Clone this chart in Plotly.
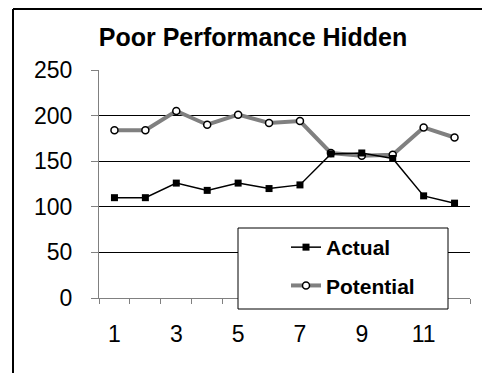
import plotly.graph_objects as go

# Monthly figures (periods 1-12)
periods = list(range(1, 13))
actual = [110, 110, 126, 118, 126, 120, 124, 158, 159, 153, 112, 104]
potential = [184, 184, 205, 190, 201, 192, 194, 159, 156, 157, 187, 176]
x_tick_labels = ["1", "3", "5", "7", "9", "11"]
x_tick_positions = [1, 3, 5, 7, 9, 11]

W, H = 482, 373
ML, MR, MT, MB = 99, 12, 70, 75
PW, PH = W - ML - MR, H - MT - MB


def px_to_paper(px, py):
    return (px - ML) / PW, (H - MB - py) / PH


FONT = "Liberation Sans, Arial, sans-serif"

fig = go.Figure()

fig.add_trace(go.Scatter(
    x=periods, y=potential, name="Potential", mode="lines+markers",
    line=dict(color="#808080", width=4),
    marker=dict(symbol="circle", size=7, color="white",
                line=dict(color="black", width=1.5)),
    legendrank=2, legendgroup="p",
))
fig.add_trace(go.Scatter(
    x=periods, y=actual, name="Actual", mode="lines+markers",
    line=dict(color="black", width=1.5),
    marker=dict(symbol="square", size=7, color="black"),
    legendrank=1, legendgroup="a",
))

# Legend frame
lx0, ly0 = px_to_paper(238, 309)
lx1, ly1 = px_to_paper(448, 228)
shapes = [
    dict(type="rect", xref="paper", yref="paper", x0=lx0, y0=ly0, x1=lx1, y1=ly1,
         fillcolor="white", line=dict(color="black", width=1), layer="above"),
]
# Outer chart frame (top and left edges)
fx0, fy0 = px_to_paper(13, 373)
fx1, fy1 = px_to_paper(482, 9)
shapes.append(dict(type="line", xref="paper", yref="paper", x0=fx0, y0=fy1, x1=fx1, y1=fy1,
                   line=dict(color="black", width=2), layer="above"))
shapes.append(dict(type="line", xref="paper", yref="paper", x0=fx0, y0=fy0, x1=fx0, y1=fy1,
                   line=dict(color="black", width=2), layer="above"))

legx, legy = px_to_paper(286, 227)

fig.update_layout(
    width=W, height=H,
    margin=dict(l=ML, r=MR, t=MT, b=MB),
    paper_bgcolor="white", plot_bgcolor="white",
    font=dict(family=FONT, color="black"),
    title=dict(text="<b>Poor Performance Hidden</b>", font=dict(size=25, color="black", family=FONT),
               x=253 / W, xref="container", xanchor="center",
               y=1 - 37 / H, yref="container", yanchor="middle"),
    showlegend=True,
    legend=dict(x=legx, y=legy, xanchor="left", yanchor="top",
                bgcolor="rgba(0,0,0,0)", borderwidth=0,
                font=dict(size=21, family=FONT, color="black", weight="bold"),
                tracegroupgap=8, itemwidth=30),
    shapes=shapes,
    xaxis=dict(range=[0.5, 12.5], tickmode="array", tickvals=x_tick_positions,
               ticktext=x_tick_labels, ticks="", showgrid=False, zeroline=False,
               showline=True, linecolor="#808080", linewidth=1,
               tickfont=dict(size=23, family=FONT, color="black"),
               ticklabelstandoff=15,
               minor=dict(tickmode="array", tickvals=[i + 0.5 for i in range(0, 13)],
                          ticks="outside", ticklen=5, tickcolor="#808080", showgrid=False)),
    yaxis=dict(range=[0, 250], dtick=50, tick0=0, showgrid=True, gridcolor="black",
               gridwidth=1, zeroline=False, showline=True, linecolor="#808080",
               linewidth=1, ticks="outside", ticklen=7, tickcolor="#808080",
               tickfont=dict(size=23, family=FONT, color="black"),
               ticklabelstandoff=14),
)

fig.write_html("out.html")
